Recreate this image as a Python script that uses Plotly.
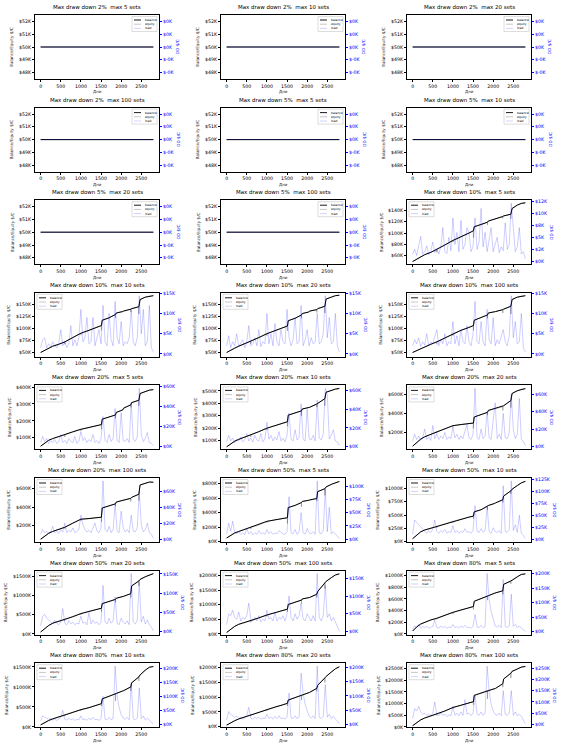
import plotly.graph_objects as go

FIG_W, FIG_H = 562, 750

# ---------------- data (values in K$) ----------------
DD_PCT = [2, 2, 2, 2, 5, 5, 5, 5, 10, 10, 10, 10, 20, 20, 20, 20, 50, 50, 50, 50, 80, 80, 80, 80]
MAX_SETS = [5, 10, 20, 100, 5, 10, 20, 100, 5, 10, 20, 100, 5, 10, 20, 100, 5, 10, 20, 100, 5, 10, 20, 100]

X_TICKS = [0, 500, 1000, 1500, 2000, 2500]

FLAT_DAYS = [0, 2800]
FLAT_BAL = [50, 50]
FLAT_LOAD = [0, 0]

BAL_DAYS = [0, 100, 200, 300, 450, 600, 800, 1000, 1200, 1400, 1510, 1530,
            1700, 1860, 1880, 2040, 2060, 2240, 2260, 2440, 2470, 2600, 2700, 2800]

BAL_09 = [50, 54, 58, 62, 66, 71, 79, 87, 93, 100, 104, 111, 115, 119, 121, 124, 125, 129, 130, 133, 143, 149, 152, 153]
BAL_10 = [50, 54, 59, 63, 67, 72, 81, 90, 96, 102, 106, 117, 122, 129, 132, 135, 136, 140, 141, 145, 160, 165, 167, 168]
BAL_11 = [50, 55, 59, 63, 68, 73, 81, 89, 95, 101, 105, 116, 121, 128, 131, 134, 136, 139, 141, 146, 161, 165, 168, 169]
BAL_12 = [50, 54, 58, 62, 67, 72, 80, 89, 96, 102, 106, 117, 122, 128, 132, 134, 135, 139, 140, 146, 160, 165, 167, 168]
BAL_13 = [50, 70, 85, 95, 108, 118, 135, 150, 160, 172, 178, 210, 222, 235, 250, 265, 275, 295, 308, 322, 362, 372, 382, 385]
BAL_14 = [50, 75, 95, 110, 128, 145, 172, 200, 220, 240, 252, 305, 322, 340, 355, 362, 368, 395, 400, 438, 490, 505, 515, 520]
BAL_15 = [50, 90, 125, 150, 175, 205, 235, 268, 280, 290, 296, 360, 385, 410, 430, 448, 455, 470, 480, 535, 610, 640, 655, 662]
BAL_16 = [50, 85, 115, 135, 155, 180, 225, 268, 275, 280, 290, 390, 410, 435, 455, 470, 478, 495, 505, 540, 640, 660, 672, 670]
BAL_17 = [50, 90, 120, 140, 170, 195, 230, 280, 300, 320, 330, 470, 500, 540, 555, 570, 575, 595, 690, 730, 755, 790, 815, 830]
BAL_18 = [50, 120, 180, 215, 250, 280, 330, 380, 420, 460, 480, 560, 600, 660, 680, 720, 730, 790, 860, 960, 990, 1060, 1110, 1140]
BAL_19 = [50, 140, 220, 280, 330, 370, 450, 530, 590, 650, 670, 790, 840, 900, 930, 970, 980, 1050, 1250, 1380, 1420, 1490, 1540, 1570]
BAL_20 = [50, 160, 260, 330, 390, 450, 550, 650, 720, 800, 850, 1010, 1080, 1160, 1200, 1240, 1250, 1360, 1450, 1750, 1800, 1930, 2020, 2060]
BAL_21 = [50, 120, 170, 200, 240, 268, 320, 370, 410, 450, 470, 560, 600, 650, 655, 700, 705, 740, 850, 900, 920, 980, 1020, 1030]
BAL_22 = [50, 110, 160, 200, 250, 290, 360, 430, 480, 540, 580, 700, 760, 830, 835, 900, 905, 1000, 1100, 1250, 1300, 1420, 1490, 1510]
BAL_23 = [50, 130, 200, 260, 330, 390, 480, 580, 660, 740, 790, 900, 980, 1060, 1070, 1150, 1160, 1300, 1400, 1650, 1700, 1850, 1960, 2030]
BAL_24 = [50, 180, 300, 380, 460, 540, 680, 830, 920, 1020, 1080, 1350, 1450, 1560, 1570, 1640, 1650, 1850, 2050, 2300, 2380, 2480, 2560, 2590]

# equity dips (lowest equity on those balance days)
DIP_DAYS = [600, 1000, 1510, 1860, 2240, 2440]
DIPS_09 = [66, 84, 92, 114, 126, 125]
DIPS_10 = [67, 86, 96, 122, 134, 130]
DIPS_11 = [68, 85, 95, 121, 133, 132]
DIPS_12 = [67, 85, 96, 121, 132, 130]
DIPS_13 = [105, 140, 150, 215, 280, 290]
DIPS_14 = [130, 185, 215, 300, 370, 380]
DIPS_15 = [185, 250, 240, 380, 430, 460]
DIPS_16 = [165, 250, 240, 410, 460, 470]
DIPS_17 = [175, 260, 250, 480, 560, 640]
DIPS_18 = [260, 350, 430, 600, 740, 900]
DIPS_19 = [340, 500, 580, 820, 950, 1250]
DIPS_20 = [400, 600, 760, 1050, 1250, 1550]
DIPS_21 = [250, 340, 420, 580, 680, 860]
DIPS_22 = [270, 400, 520, 650, 900, 1150]
DIPS_23 = [360, 540, 700, 900, 1200, 1500]
DIPS_24 = [500, 780, 950, 1200, 1700, 2100]

LOAD_DAYS = [0, 50, 100, 150, 200, 250, 300, 350, 400, 450,
             500, 550, 600, 650, 700, 750, 800, 850, 900, 950,
             1000, 1050, 1100, 1150, 1200, 1250, 1300, 1350, 1400, 1450,
             1500, 1550, 1600, 1650, 1700, 1750, 1800, 1850, 1900, 1950,
             2000, 2050, 2100, 2150, 2200, 2250, 2300, 2350, 2400, 2450,
             2500, 2550, 2600, 2650, 2700, 2750, 2800]

LOAD_09 = [1.5, 2.5, 1.2, 3.0, 5.2, 1.5, 2.0, 3.2, 1.4, 2.2,
           4.0, 1.8, 2.6, 1.5, 3.0, 7.0, 2.0, 1.6, 5.0, 2.2,
           9.0, 3.5, 6.0, 2.0, 8.5, 2.5, 3.5, 7.0, 6.0, 2.0,
           3.0, 9.0, 2.5, 4.0, 11.0, 3.0, 6.0, 2.0, 4.5, 7.0,
           2.0, 3.5, 5.0, 1.8, 3.0, 2.2, 8.0, 2.5, 3.5, 12.1,
           6.0, 2.0, 3.0, 7.0, 1.5, 2.0, 0.5]
LOAD_10 = [1.5, 3.5, 4.0, 1.5, 2.5, 1.8, 3.0, 2.0, 1.5, 2.5,
           6.0, 2.0, 3.0, 1.6, 2.5, 7.0, 2.0, 3.5, 2.0, 4.0,
           11.0, 3.0, 4.0, 9.0, 2.5, 3.0, 9.0, 2.0, 4.0, 6.0,
           2.5, 12.0, 3.0, 2.0, 10.0, 3.5, 2.0, 13.0, 4.0, 2.5,
           8.0, 2.0, 3.0, 2.5, 4.0, 11.0, 3.0, 2.0, 4.0, 14.4,
           5.0, 11.0, 2.0, 3.0, 12.0, 1.5, 0.5]
LOAD_11 = [2.0, 4.5, 1.5, 3.0, 2.0, 5.0, 1.8, 2.5, 3.5, 1.5,
           3.0, 7.0, 2.0, 2.5, 4.0, 2.0, 6.0, 1.8, 3.0, 2.5,
           10.0, 2.5, 5.0, 2.0, 7.5, 3.0, 2.0, 6.0, 3.0, 2.5,
           11.0, 4.0, 2.0, 3.5, 9.0, 2.5, 3.0, 12.0, 2.0, 3.5,
           6.0, 2.0, 4.0, 2.5, 3.0, 10.0, 2.5, 3.0, 5.0, 14.4,
           4.0, 9.0, 2.5, 3.0, 10.0, 2.0, 0.5]
LOAD_12 = [2.0, 3.5, 2.5, 4.0, 1.8, 3.0, 2.2, 5.0, 2.0, 3.0,
           2.5, 4.0, 6.0, 2.0, 3.5, 2.5, 5.0, 2.0, 3.0, 2.5,
           8.0, 2.5, 4.5, 2.0, 6.0, 3.0, 2.5, 7.0, 3.0, 2.0,
           5.0, 13.0, 3.0, 2.5, 8.0, 3.0, 2.0, 11.0, 3.5, 2.5,
           9.0, 2.0, 3.5, 2.5, 4.0, 6.0, 3.0, 2.0, 4.5, 14.4,
           4.0, 8.0, 2.5, 3.0, 10.0, 1.5, 0.5]
LOAD_13 = [4, 10, 5, 8, 3, 6, 4, 7, 3, 5,
           12, 4, 6, 3, 8, 5, 4, 10, 3, 5,
           15, 6, 9, 4, 7, 5, 12, 4, 6, 3,
           8, 30, 6, 4, 12, 5, 8, 38, 6, 4,
           34, 6, 5, 8, 4, 44, 7, 5, 10, 58.4,
           12, 5, 8, 14, 4, 3, 1]
LOAD_14 = [5, 12, 6, 9, 4, 8, 6, 10, 5, 7,
           14, 6, 9, 5, 12, 7, 6, 14, 5, 8,
           26, 8, 12, 6, 10, 7, 16, 6, 9, 5,
           12, 36, 8, 6, 18, 7, 10, 46, 8, 6,
           40, 8, 7, 12, 6, 50, 9, 7, 14, 62.6,
           56, 8, 12, 18, 6, 5, 1]
LOAD_15 = [6, 14, 8, 12, 7, 10, 20, 8, 11, 7,
           24, 9, 14, 8, 12, 9, 16, 8, 11, 9,
           22, 10, 14, 8, 12, 9, 18, 25, 10, 8,
           14, 66.7, 10, 8, 20, 9, 12, 40, 10, 8,
           30, 50, 9, 14, 8, 38, 10, 9, 16, 60,
           20, 9, 14, 55, 8, 6, 1]
LOAD_16 = [6, 12, 8, 10, 7, 9, 16, 8, 10, 7,
           12, 9, 20, 8, 11, 9, 14, 8, 10, 12,
           30, 18, 12, 9, 11, 8, 14, 20, 10, 8,
           14, 73, 12, 9, 16, 8, 12, 45, 10, 8,
           35, 14, 9, 12, 8, 30, 10, 9, 14, 60,
           18, 9, 12, 20, 8, 6, 1]
LOAD_17 = [10, 30, 15, 34, 12, 10, 14, 9, 12, 8,
           20, 10, 14, 8, 12, 9, 16, 10, 12, 9,
           18, 10, 14, 9, 12, 10, 16, 12, 10, 9,
           14, 80, 12, 10, 18, 9, 14, 50, 12, 9,
           20, 12, 10, 14, 9, 110, 12, 10, 16, 95,
           14, 60, 10, 14, 9, 6, 1]
LOAD_18 = [10, 40, 35, 30, 25, 20, 15, 12, 18, 14,
           20, 40, 16, 12, 18, 14, 20, 12, 16, 14,
           28, 14, 18, 12, 16, 14, 22, 14, 16, 12,
           18, 70, 16, 14, 22, 14, 18, 68, 16, 12,
           24, 16, 14, 18, 12, 112, 16, 14, 20, 122,
           18, 30, 14, 50, 12, 8, 1]
LOAD_19 = [15, 40, 45, 35, 30, 25, 20, 30, 22, 18,
           25, 60, 22, 18, 28, 20, 25, 18, 22, 20,
           40, 22, 25, 18, 50, 20, 30, 22, 25, 18,
           25, 120, 25, 20, 35, 22, 28, 90, 22, 18,
           35, 25, 20, 28, 18, 151, 25, 20, 30, 130,
           25, 40, 20, 30, 18, 12, 2]
LOAD_20 = [20, 50, 45, 60, 40, 35, 55, 30, 40, 35,
           45, 80, 35, 30, 40, 30, 45, 28, 35, 30,
           60, 35, 40, 30, 55, 30, 40, 35, 45, 30,
           50, 100, 40, 30, 50, 35, 45, 80, 35, 30,
           50, 40, 30, 45, 30, 163, 40, 30, 45, 130,
           40, 50, 30, 40, 25, 15, 2]
LOAD_21 = [10, 20, 15, 25, 12, 18, 14, 20, 12, 16,
           18, 40, 15, 12, 20, 14, 18, 12, 16, 14,
           25, 14, 18, 12, 20, 14, 22, 14, 16, 12,
           18, 60, 16, 14, 22, 14, 18, 201, 110, 70,
           40, 20, 16, 22, 14, 180, 18, 14, 20, 130,
           18, 25, 14, 20, 12, 8, 1]
LOAD_22 = [12, 30, 25, 20, 18, 22, 15, 20, 14, 18,
           25, 50, 18, 15, 22, 16, 20, 14, 18, 16,
           30, 16, 20, 14, 22, 16, 25, 16, 18, 14,
           20, 100, 18, 16, 25, 16, 20, 208, 100, 60,
           35, 22, 18, 25, 16, 150, 20, 16, 22, 130,
           20, 30, 16, 22, 14, 10, 1]
LOAD_23 = [15, 45, 35, 30, 25, 28, 20, 25, 18, 22,
           30, 60, 22, 18, 25, 20, 25, 18, 22, 20,
           35, 20, 25, 18, 28, 20, 30, 20, 22, 18,
           25, 110, 22, 20, 30, 20, 25, 180, 110, 70,
           45, 28, 22, 30, 20, 205, 25, 20, 28, 140,
           25, 35, 20, 28, 18, 12, 2]
LOAD_24 = [25, 70, 60, 80, 55, 45, 50, 40, 45, 38,
           50, 100, 45, 38, 50, 40, 45, 35, 42, 38,
           80, 40, 50, 38, 55, 40, 110, 45, 50, 38,
           50, 130, 45, 40, 55, 40, 50, 260, 150, 90,
           60, 45, 40, 50, 38, 150, 45, 40, 50, 150,
           40, 55, 38, 45, 35, 20, 2]

LEFT_TICKS = [[48, 49, 50, 51, 52]] * 8 + [
    [60, 80, 100, 120, 140],
    [50, 75, 100, 125, 150], [50, 75, 100, 125, 150], [50, 75, 100, 125, 150],
    [100, 200, 300, 400], [100, 200, 300, 400, 500], [200, 400, 600], [200, 400, 600],
    [0, 200, 400, 600, 800], [0, 250, 500, 750, 1000], [0, 500, 1000, 1500], [0, 500, 1000, 1500, 2000],
    [0, 200, 400, 600, 800, 1000], [0, 500, 1000, 1500], [0, 500, 1000, 1500, 2000],
    [0, 500, 1000, 1500, 2000, 2500]]
RIGHT_TICKS = [[-0.00004, -0.00002, 0, 0.00002, 0.00004]] * 8 + [
    [0, 2.5, 5, 7.5, 10, 12.5],
    [0, 5, 10, 15], [0, 5, 10, 15], [0, 5, 10, 15],
    [0, 20, 40, 60], [0, 20, 40, 60], [0, 20, 40, 60], [0, 20, 40, 60],
    [0, 25, 50, 75, 100], [0, 25, 50, 75, 100, 125], [0, 50, 100, 150], [0, 50, 100, 150],
    [0, 50, 100, 150, 200], [0, 50, 100, 150, 200], [0, 50, 100, 150, 200],
    [0, 50, 100, 150, 200, 250]]

# ---------------- assembling panels ----------------
BALS = [FLAT_BAL] * 8 + [BAL_09, BAL_10, BAL_11, BAL_12, BAL_13, BAL_14, BAL_15, BAL_16,
                         BAL_17, BAL_18, BAL_19, BAL_20, BAL_21, BAL_22, BAL_23, BAL_24]
DIPS = [None] * 8 + [DIPS_09, DIPS_10, DIPS_11, DIPS_12, DIPS_13, DIPS_14, DIPS_15, DIPS_16,
                     DIPS_17, DIPS_18, DIPS_19, DIPS_20, DIPS_21, DIPS_22, DIPS_23, DIPS_24]
LOADS = [FLAT_LOAD] * 8 + [LOAD_09, LOAD_10, LOAD_11, LOAD_12, LOAD_13, LOAD_14, LOAD_15, LOAD_16,
                           LOAD_17, LOAD_18, LOAD_19, LOAD_20, LOAD_21, LOAD_22, LOAD_23, LOAD_24]

# axis limits (layout settings)
LEFT_RANGES = [[47.5, 52.5]] * 8 + [
    [45.3, 157.6], [41, 174], [41, 174], [41, 174],
    [31, 410], [29, 545], [16, 696], [20, 716],
    [-5, 878], [-13, 1203], [-17, 1650], [-23, 2171],
    [-11, 1086], [-8, 1592], [-20, 2150], [-14, 2729]]

FONT = "DejaVu Sans"
BLUE = "#0000ff"
CW = {"$": 0.636, "K": 0.656, "-": 0.338}


def txt_w(s, size):
    return sum(CW.get(ch, 0.636) for ch in s) * size


def fmt(v):
    return "${:.0f}K".format(v)


fig = go.Figure()
layout = dict(width=FIG_W, height=FIG_H, margin=dict(l=0, r=0, t=0, b=0),
              paper_bgcolor="white", plot_bgcolor="white", showlegend=False,
              font=dict(family=FONT, color="black"))
annotations = []
shapes = []

TICK_FS = 4.7
PW, PH = 124.0, 64.0

for k in range(24):
    r, c = divmod(k, 3)
    xn, ly, ry = k + 1, 2 * k + 1, 2 * k + 2
    xs = "" if xn == 1 else str(xn)
    lys = "" if ly == 1 else str(ly)
    rys = str(ry)
    left_px = 35 + 186 * c
    top_px = 15 + 92.6 * r
    xd = [left_px / FIG_W, (left_px + PW) / FIG_W]
    yd = [1 - (top_px + PH) / FIG_H, 1 - top_px / FIG_H]

    flat = k < 8
    days = FLAT_DAYS if flat else BAL_DAYS
    bal = BALS[k]
    load = LOADS[k]
    ldays = FLAT_DAYS if flat else LOAD_DAYS
    assert len(bal) == len(days), k
    assert len(load) == len(ldays), k

    # equity: balance path with the recorded dips
    eq_x, eq_y = [], []
    for d, v in zip(days, bal):
        eq_x.append(d)
        eq_y.append(v)
        if DIPS[k] is not None and d in DIP_DAYS:
            eq_x += [d, d]
            eq_y += [DIPS[k][DIP_DAYS.index(d)], v]

    fig.add_trace(go.Scatter(x=eq_x, y=eq_y, mode="lines", line=dict(color="#8c8c8c", width=0.6),
                             xaxis="x" + xs, yaxis="y" + lys, hoverinfo="skip"))
    fig.add_trace(go.Scatter(x=days, y=bal, mode="lines", line=dict(color="black", width=1.0),
                             xaxis="x" + xs, yaxis="y" + lys, hoverinfo="skip"))
    fig.add_trace(go.Scatter(x=ldays, y=load, mode="lines", line=dict(color="rgba(0,0,255,0.33)", width=0.6),
                             xaxis="x" + xs, yaxis="y" + rys, hoverinfo="skip"))

    m = max(load)
    rrange = [-0.00005, 0.00005] if m == 0 else [-0.05 * m, 1.05 * m]

    common = dict(showgrid=False, zeroline=False, showline=True, linecolor="black", linewidth=0.6,
                  ticks="outside", ticklen=2.2, tickwidth=0.6, automargin=False)
    layout["xaxis" + xs] = dict(domain=xd, anchor="y" + lys, range=[-140, 2940], mirror=True,
                                tickvals=X_TICKS, ticktext=[str(t) for t in X_TICKS],
                                tickfont=dict(size=TICK_FS, color="black", family=FONT),
                                tickcolor="black", **common)
    lt = LEFT_TICKS[k]
    layout["yaxis" + lys] = dict(domain=yd, anchor="x" + xs, range=LEFT_RANGES[k],
                                 tickvals=lt, ticktext=[fmt(t) for t in lt],
                                 tickfont=dict(size=TICK_FS, color="black", family=FONT),
                                 tickcolor="black", **common)
    rt = RIGHT_TICKS[k]
    layout["yaxis" + rys] = dict(overlaying="y" + lys, side="right", anchor="x" + xs, range=rrange,
                                 tickvals=rt, ticktext=[fmt(t) for t in rt],
                                 tickfont=dict(size=TICK_FS, color=BLUE, family=FONT),
                                 tickcolor=BLUE, **common)

    # titles
    xc = (xd[0] + xd[1]) / 2
    annotations.append(dict(text="Max draw down %d%%\u00a0 max %d sets" % (DD_PCT[k], MAX_SETS[k]),
                            xref="paper", yref="paper", x=xc, y=yd[1], yshift=8,
                            xanchor="center", yanchor="middle", showarrow=False,
                            font=dict(size=5.5, color="black", family=FONT)))
    annotations.append(dict(text="Дни", xref="paper", yref="paper", x=xc, y=yd[0], yshift=-13,
                            xanchor="center", yanchor="middle", showarrow=False,
                            font=dict(size=4.0, color="#222222", family=FONT)))
    lw = max(txt_w(fmt(t), TICK_FS) for t in lt)
    annotations.append(dict(text="Balance/Equity $/C", xref="paper", yref="paper", x=xd[0],
                            y=(yd[0] + yd[1]) / 2, xshift=-(lw + 11), textangle=-90,
                            xanchor="center", yanchor="middle", showarrow=False,
                            font=dict(size=4.2, color="#222222", family=FONT)))
    rw = max(txt_w(fmt(t), TICK_FS) for t in rt)
    annotations.append(dict(text="DD $/C", xref="paper", yref="paper", x=xd[1],
                            y=(yd[0] + yd[1]) / 2, xshift=rw + 8.5, textangle=-90,
                            xanchor="center", yanchor="middle", showarrow=False,
                            font=dict(size=4.2, color=BLUE, family=FONT)))

    # legend box (drawn as decoration)
    bx0 = 97.0 if flat else 2.0
    xr, yr = "x" + xs + " domain", "y" + lys + " domain"
    shapes.append(dict(type="rect", xref=xr, yref=yr, x0=bx0 / PW, x1=(bx0 + 25) / PW,
                       y0=1 - 16.5 / PH, y1=1 - 1.5 / PH,
                       line=dict(color="#bbbbbb", width=0.5), fillcolor="rgba(255,255,255,0.85)"))
    entries = [("balance", "black", 0.9), ("equity", "#8c8c8c", 0.5), ("load", "rgba(0,0,255,0.3)", 0.6)]
    for i, (name, col, w) in enumerate(entries):
        yy = 1 - (5 + 4.2 * i) / PH
        shapes.append(dict(type="line", xref=xr, yref=yr, x0=(bx0 + 2) / PW, x1=(bx0 + 9) / PW,
                           y0=yy, y1=yy, line=dict(color=col, width=w)))
        annotations.append(dict(text=name, xref=xr, yref=yr, x=(bx0 + 11) / PW, y=yy,
                                xanchor="left", yanchor="middle", showarrow=False,
                                font=dict(size=3, color="black", family=FONT)))

layout["annotations"] = annotations
layout["shapes"] = shapes
fig.update_layout(**layout)
fig.write_html("out.html")
